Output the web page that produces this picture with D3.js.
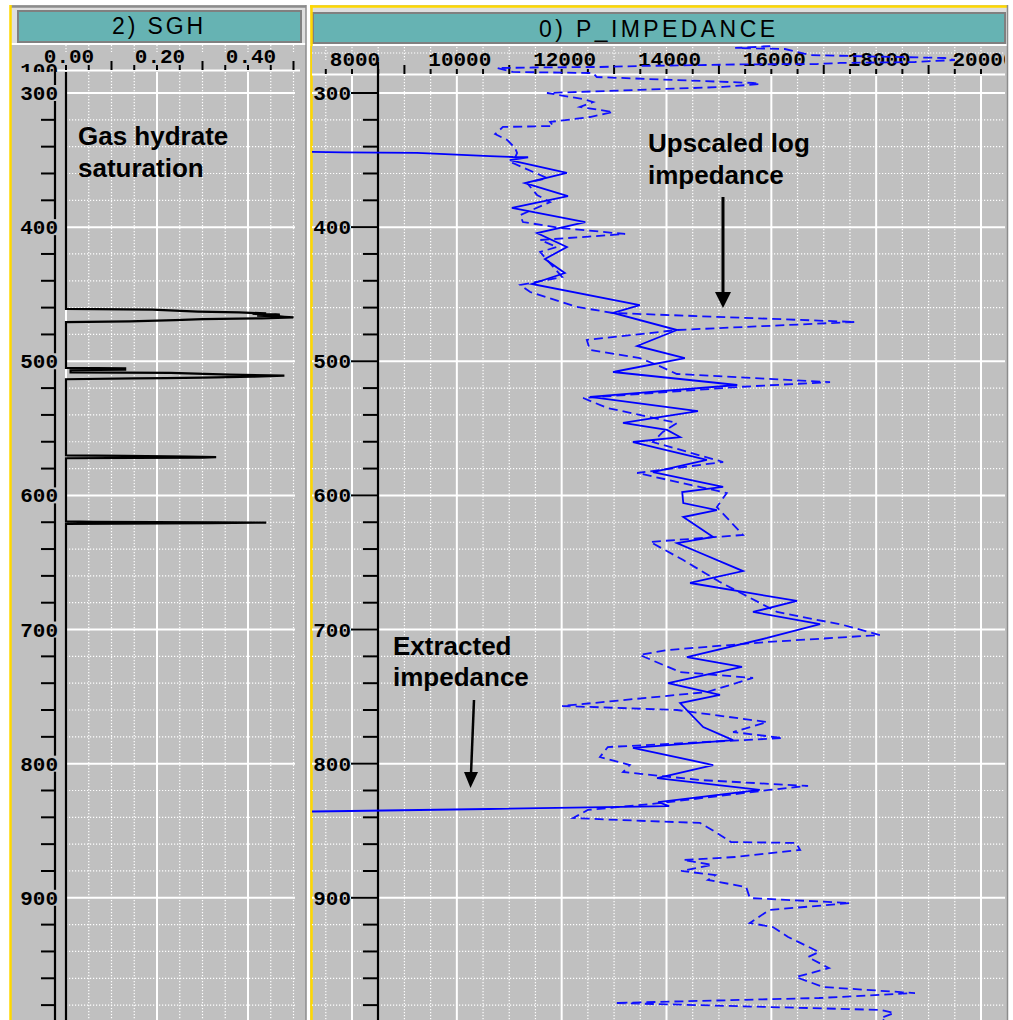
<!DOCTYPE html>
<html>
<head>
<meta charset="utf-8">
<title>SGH and P_IMPEDANCE</title>
<script src="https://cdn.jsdelivr.net/npm/d3@7"></script>
<style>
    body{ margin: 0; background: #fff; }
    svg{ display: block; }
    .num{ font-family: "Liberation Mono", monospace; font-weight: bold; font-size: 21px; fill: #000; }
    .title{ font-family: "Liberation Sans", Arial, sans-serif; font-size: 23px; fill: #000; }
    .note{ font-family: "Liberation Sans", Arial, sans-serif; font-weight: bold; font-size: 26px; fill: #000; }
</style>
</head>
<body>
<svg width="1013" height="1020"></svg>
<script>
// gas hydrate saturation (fraction) against depth
const sghDepth = [250, 461.0, 461.5, 462.3, 463.0, 463.6, 464.3, 464.6, 465.0, 465.3, 465.8, 466.0, 466.5, 466.8, 467.3, 468.0, 468.6, 469.4, 470.2, 470.8,
    505.0, 505.3, 506.3, 506.6, 508.3, 508.6, 510.0, 510.7, 511.5, 512.0, 512.2, 512.5, 512.8, 513.4,
    570.2, 570.5, 571.0, 571.4, 571.8, 572.3,
    619.4, 619.7, 620.0, 620.3, 620.7, 621.2, 1000]
const sghValue = [0, 0, 0.19, 0.24, 0.29, 0.38, 0.44, 0.41, 0.46, 0.47, 0.43, 0.42, 0.47, 0.48, 0.50, 0.43, 0.30, 0.24, 0.14, 0,
    0, 0.13, 0.13, 0.01, 0.01, 0.23, 0.36, 0.48, 0.41, 0.33, 0.30, 0.22, 0.15, 0,
    0, 0.13, 0.27, 0.33, 0.30, 0,
    0, 0.06, 0.33, 0.44, 0.32, 0, 0]

// extracted impedance (solid)
const extDepth = [343.8, 344.2, 344.7, 347.0, 347.7, 347.9, 350.0, 359.6, 367.1, 376.8, 385.7, 396.2, 404.4, 414.8, 423.8,
    434.2, 442.4, 458.1, 464.0, 476.7, 488.6, 497.6, 508.0, 517.7, 526.6, 537.1, 546.0, 551.2, 556.5, 560.2, 573.6,
    582.6, 593.7, 597.5, 605.7, 610.9, 616.1, 631.0, 635.5, 640.7, 656.4, 665.3, 678.7, 686.9, 695.9, 706.3, 720.5,
    727.9, 739.9, 748.8, 754.8, 772.7, 782.4, 788.3, 801.0, 810.7, 819.6, 828.6, 831.6, 833.8, 835.3, 835.8]
const extImp = [7000, 7830, 9240, 10630, 11070, 11360, 11010, 12100, 11300, 12120, 11050, 12450, 11530, 12100, 11680,
    12060, 11430, 13490, 12980, 14200, 13440, 14350, 12980, 15350, 12540, 14600, 13170, 14010, 14260, 13360, 14770,
    13740, 15080, 14300, 14320, 14960, 14320, 14890, 14200, 14510, 15460, 14450, 16490, 15650, 16930, 15920, 14390,
    15440, 14030, 15020, 14260, 14700, 15270, 13360, 14890, 13820, 15780, 13840, 14050, 10600, 7960, 7000]

// upscaled log impedance (dashed)
const upsDepth = [265.0, 266.4, 267.2, 271.7, 272.4, 273.9, 275.4, 276.9, 277.6, 278.4, 278.7, 279.1, 279.9, 280.6, 281.0,
    281.4, 284.3, 285.1, 288.1, 292.5, 293.3, 295.5, 300.0, 304.5, 306.7, 310.4, 314.2, 317.9, 321.6, 324.6, 325.3,
    330.6, 335.0, 341.0, 344.7, 352.2, 363.4, 367.1, 376.0, 381.3, 391.0, 396.2, 400.6, 405.1, 409.6, 414.8, 418.5,
    424.5, 437.2, 443.1, 448.4, 459.5, 464.0, 470.7, 476.7, 484.1, 491.6, 497.6, 502.8, 509.5, 515.5, 519.2, 527.4,
    534.8, 546.0, 552.7, 560.2, 575.1, 583.3, 598.2, 608.7, 629.5, 634.7, 648.2, 664.6, 686.9, 696.6, 704.1, 709.3,
    715.3, 719.0, 731.7, 736.1, 746.6, 757.0, 760.0, 769.0, 776.4, 780.9, 787.6, 795.1, 801.0, 806.2, 812.2, 816.6,
    819.6, 829.3, 834.5, 840.5, 842.0, 844.2, 849.4, 858.4, 859.1, 864.3, 869.6, 871.8, 875.5, 880.0, 883.0, 886.7,
    892.0, 900.2, 903.9, 909.1, 918.8, 921.8, 929.2, 940.4, 944.2, 952.4, 959.1, 966.5, 971.0, 974.7, 978.4, 983.6,
    985.9, 989.6, 994.8]
const upsImp = [15980, 15310, 16260, 16740, 17500, 19310, 19500, 18740, 17310, 16870, 15350, 14830, 13440, 12730, 11450,
    10770, 11070, 12600, 12670, 15650, 15780, 15080, 11720, 12410, 12600, 12350, 12980, 12540, 11780, 11840, 10880,
    10730, 10960, 11110, 11150, 11070, 11720, 11340, 11530, 11780, 11210, 11260, 11970, 13210, 11590, 11910, 11590,
    11720, 12010, 11210, 11400, 12290, 12980, 17600, 14200, 12480, 12540, 13490, 13820, 14200, 17120, 15350, 12410,
    12870, 14200, 13930, 13740, 15080, 13440, 15150, 14960, 15460, 13690, 14320, 15020, 16110, 17370, 18070, 15920,
    14010, 13490, 14260, 15650, 14770, 12010, 14200, 15920, 15270, 16220, 12880, 12730, 13300, 13170, 14640, 16700,
    15960, 13900, 12500, 12220, 13090, 14640, 14870, 15230, 16470, 16550, 15310, 14320, 14870, 14280, 14930, 14790,
    15520, 15590, 17500, 15960, 15590, 16030, 16320, 16910, 16700, 17100, 16470, 16990, 18740, 16910, 13020, 18090,
    18340, 18090, 18260]

const depthLabels = [300, 400, 500, 600, 700, 800, 900]
const sghTicks = [0, 0.2, 0.4]
const sghTickText = ["0.00", "0.20", "0.40"]
const impTicks = [8000, 10000, 12000, 14000, 16000, 18000, 20000]

const GRAY = "#c0c0c0", TEAL = "#66b3b3", YEL = "#ffd800"

let svg = d3.select("svg")

// scales: depth is shared by both tracks
const y = d3.scaleLinear().domain([300, 900]).range([93, 897.8])
const xS = d3.scaleLinear().domain([0, 0.4]).range([66, 248])
const xP = d3.scaleLinear().domain([8000, 20000]).range([352, 981])

let defs = svg.append("defs")
function clip(id, x, yy, w, h){
    defs.append("clipPath").attr("id", id).append("rect")
        .attr("x", x).attr("y", yy).attr("width", w).attr("height", h)
}
clip("clipL", 56, 72, 244, 950)
clip("clipR", 312, 40, 693, 982)
clip("clipRH", 312, 44, 693, 32)
clip("clipTop", 10, 44, 60, 28)

// ******************************
// panels and headers
svg.append("rect").attr("x", 10).attr("y", 5).attr("width", 296).attr("height", 1015).attr("fill", GRAY)
svg.append("rect").attr("x", 310).attr("y", 5).attr("width", 698).attr("height", 1015).attr("fill", GRAY)
svg.append("rect").attr("x", 10).attr("y", 7).attr("width", 296).attr("height", 37).attr("fill", "#dedede")
svg.append("rect").attr("x", 310).attr("y", 7).attr("width", 698).attr("height", 37).attr("fill", "#dedede")

svg.append("rect").attr("x", 18).attr("y", 11).attr("width", 283).attr("height", 31)
    .attr("fill", TEAL).attr("stroke", "#808080").attr("stroke-width", 2)
svg.append("rect").attr("x", 313).attr("y", 13).attr("width", 692).attr("height", 30)
    .attr("fill", TEAL).attr("stroke", "#808080").attr("stroke-width", 2)
svg.append("line").attr("x1", 10).attr("x2", 306).attr("y1", 44).attr("y2", 44).attr("stroke", "#fff").attr("stroke-width", 2)
svg.append("line").attr("x1", 310).attr("x2", 1008).attr("y1", 45).attr("y2", 45).attr("stroke", "#fff").attr("stroke-width", 2)

svg.append("text").attr("class", "title").attr("x", 157.5).attr("y", 34).attr("text-anchor", "middle")
    .attr("textLength", 91).attr("lengthAdjust", "spacing").text("2) SGH")
svg.append("text").attr("class", "title").attr("x", 657).attr("y", 36.5).attr("text-anchor", "middle")
    .attr("textLength", 236).attr("lengthAdjust", "spacing").text("0) P_IMPEDANCE")

// borders
svg.append("line").attr("x1", 10).attr("x2", 306).attr("y1", 6.5).attr("y2", 6.5).attr("stroke", "#8c8c8c").attr("stroke-width", 2.5)
svg.append("line").attr("x1", 10.5).attr("x2", 10.5).attr("y1", 5).attr("y2", 1020).attr("stroke", YEL).attr("stroke-width", 2.5)
svg.append("line").attr("x1", 306).attr("x2", 306).attr("y1", 5).attr("y2", 1020).attr("stroke", "#8c8c8c").attr("stroke-width", 1.5)
svg.append("line").attr("x1", 310).attr("x2", 1008).attr("y1", 6.5).attr("y2", 6.5).attr("stroke", YEL).attr("stroke-width", 2.5)
svg.append("line").attr("x1", 311.5).attr("x2", 311.5).attr("y1", 5).attr("y2", 1020).attr("stroke", YEL).attr("stroke-width", 2.5)
svg.append("line").attr("x1", 1007.5).attr("x2", 1007.5).attr("y1", 5).attr("y2", 1020).attr("stroke", "#8c8c8c").attr("stroke-width", 1.5)

// ******************************
// grids
function gridLines(g, xs, isMajor, x, xa, xb, ya, yb){
    const depths = d3.range(280, 1001, 20)
    g.selectAll(null).data(depths).enter().append("line")
        .attr("x1", xa).attr("x2", xb).attr("y1", d => y(d)).attr("y2", d => y(d))
        .attr("stroke", "#fff")
        .attr("stroke-width", d => d % 100 === 0 ? 2 : 1.2)
        .attr("stroke-dasharray", d => d % 100 === 0 ? null : "1.2,1.8")
    g.selectAll(null).data(xs).enter().append("line")
        .attr("x1", d => x(d)).attr("x2", d => x(d)).attr("y1", ya).attr("y2", yb)
        .attr("stroke", "#fff")
        .attr("stroke-width", d => isMajor(d) ? 2 : 1.2)
        .attr("stroke-dasharray", d => isMajor(d) ? null : "1.2,1.8")
}
let gL = svg.append("g").attr("clip-path", "url(#clipL)")
gridLines(gL, d3.range(0, 0.501, 0.05), d => Math.abs(d * 5 - Math.round(d * 5)) < 1e-6, xS, 66, 295, 72, 1020)
let gR = svg.append("g").attr("clip-path", "url(#clipR)")
gridLines(gR, d3.range(7500, 20001, 500), d => d % 2000 === 0, xP, 312, 1005, 76, 1020)
// header strips cover grid rows above the tracks
svg.append("rect").attr("x", 312).attr("y", 46).attr("width", 693).attr("height", 28).attr("fill", GRAY)
svg.append("rect").attr("x", 12).attr("y", 45).attr("width", 293).attr("height", 26).attr("fill", GRAY)

// faint header grid
svg.append("g").selectAll(null).data(d3.range(7500, 20001, 500)).enter().append("line")
    .attr("x1", d => xP(d)).attr("x2", d => xP(d)).attr("y1", 47).attr("y2", 60)
    .attr("stroke", "#fff").attr("stroke-dasharray", "1.2,1.8").attr("stroke-width", 1.2)
svg.append("line").attr("x1", 312).attr("x2", 1005).attr("y1", 53).attr("y2", 53)
    .attr("stroke", "#fff").attr("stroke-dasharray", "1.2,1.8").attr("stroke-width", 1.2)
svg.append("g").selectAll(null).data(d3.range(0, 0.501, 0.05)).enter().append("line")
    .attr("x1", d => xS(d)).attr("x2", d => xS(d)).attr("y1", 45).attr("y2", 52)
    .attr("stroke", "#fff").attr("stroke-dasharray", "1.2,1.8").attr("stroke-width", 1.2)

// ******************************
// header scales
svg.append("line").attr("x1", 56).attr("x2", 300).attr("y1", 70.5).attr("y2", 70.5).attr("stroke", "#fff").attr("stroke-width", 2)
svg.append("g").selectAll(null).data(d3.range(0, 0.501, 0.05)).enter().append("line")
    .attr("x1", d => xS(d)).attr("x2", d => xS(d))
    .attr("y1", (d, i) => i % 4 === 2 ? 61 : 65).attr("y2", 70)
    .attr("stroke", "#000").attr("stroke-width", 2)
svg.append("g").selectAll(null).data(sghTicks).enter().append("text")
    .attr("class", "num").attr("x", d => xS(d) + 3).attr("y", 63).attr("text-anchor", "middle")
    .text((d, i) => sghTickText[i])

svg.append("line").attr("x1", 312).attr("x2", 1005).attr("y1", 74.5).attr("y2", 74.5).attr("stroke", "#fff").attr("stroke-width", 2)
svg.append("g").attr("clip-path", "url(#clipRH)").selectAll(null).data(d3.range(7500, 20501, 500)).enter().append("line")
    .attr("x1", d => xP(d)).attr("x2", d => xP(d))
    .attr("y1", d => (d / 1000) % 2 === 1 ? 65 : 69).attr("y2", 74)
    .attr("stroke", "#000").attr("stroke-width", 2)
svg.append("g").attr("clip-path", "url(#clipRH)").selectAll(null).data(impTicks).enter().append("text")
    .attr("class", "num").attr("x", d => xP(d) + 3).attr("y", 66).attr("text-anchor", "middle")
    .text(d => d)

// ******************************
// depth axes
const minorDepths = d3.range(300, 1001, 20).filter(d => d % 100 !== 0)

svg.append("line").attr("x1", 55).attr("x2", 55).attr("y1", 72).attr("y2", 1020).attr("stroke", "#000").attr("stroke-width", 2.2)
svg.append("g").selectAll(null).data(minorDepths).enter().append("line")
    .attr("x1", 41).attr("x2", 55).attr("y1", d => y(d)).attr("y2", d => y(d))
    .attr("stroke", "#000").attr("stroke-width", 2)
let lab = svg.append("g").selectAll(null).data(depthLabels).enter()
lab.append("rect").attr("x", 16).attr("y", d => y(d) - 8).attr("width", 43).attr("height", 16).attr("fill", GRAY)
lab.append("text").attr("class", "num").attr("x", 58).attr("y", d => y(d) + 7).attr("text-anchor", "end").text(d => d)
svg.append("text").attr("class", "num").attr("clip-path", "url(#clipTop)")
    .attr("x", 58).attr("y", 77).attr("text-anchor", "end").text("100")

svg.append("line").attr("x1", 378).attr("x2", 378).attr("y1", 62).attr("y2", 1020).attr("stroke", "#000").attr("stroke-width", 2.2)
svg.append("g").selectAll(null).data(minorDepths).enter().append("line")
    .attr("x1", 363).attr("x2", 378).attr("y1", d => y(d)).attr("y2", d => y(d))
    .attr("stroke", "#000").attr("stroke-width", 2)
let labR = svg.append("g").selectAll(null).data(depthLabels).enter()
labR.append("line").attr("x1", 351).attr("x2", 378).attr("y1", d => y(d)).attr("y2", d => y(d))
    .attr("stroke", "#000").attr("stroke-width", 2)
labR.append("text").attr("class", "num").attr("x", 351).attr("y", d => y(d) + 7).attr("text-anchor", "end").text(d => d)

// ******************************
// curves
const sghLine = d3.line().x(d => xS(d[1])).y(d => y(d[0]))
gL.append("path").datum(d3.zip(sghDepth, sghValue))
    .attr("d", sghLine).attr("fill", "none").attr("stroke", "#000").attr("stroke-width", 2.2)

const impLine = d3.line().x(d => xP(d[1])).y(d => y(d[0]))
let gC = svg.append("g").attr("clip-path", "url(#clipR)")
gC.append("path").datum(d3.zip(upsDepth, upsImp))
    .attr("d", impLine).attr("fill", "none").attr("stroke", "#1010ff").attr("stroke-width", 1.8)
    .attr("stroke-dasharray", "9,5")
gC.append("path").datum(d3.zip(extDepth, extImp))
    .attr("d", impLine).attr("fill", "none").attr("stroke", "#0000ff").attr("stroke-width", 1.8)

// ******************************
// annotations
function note(x, yy, t){
    svg.append("text").attr("class", "note").attr("x", x).attr("y", yy).text(t)
}
note(78, 145, "Gas hydrate")
note(78, 177, "saturation")
note(648, 152, "Upscaled log")
note(648, 184, "impedance")
note(393, 655, "Extracted")
note(393, 686, "impedance")

svg.append("line").attr("x1", 723).attr("x2", 723).attr("y1", 197).attr("y2", 294).attr("stroke", "#000").attr("stroke-width", 3)
svg.append("path").attr("d", "M715,292 L731,292 L723,308 Z").attr("fill", "#000")
svg.append("line").attr("x1", 474).attr("x2", 471).attr("y1", 700).attr("y2", 774).attr("stroke", "#000").attr("stroke-width", 2.5)
svg.append("path").attr("d", "M464,772 L478,772 L470.5,788 Z").attr("fill", "#000")
</script>
</body>
</html>
